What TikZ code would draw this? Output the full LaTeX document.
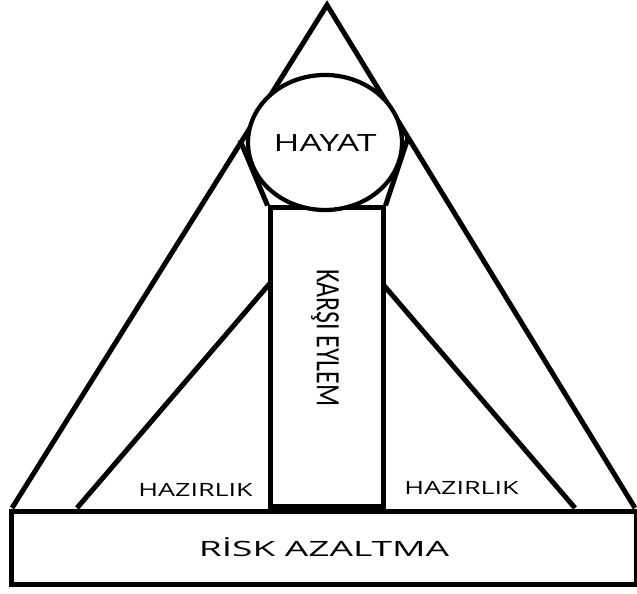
\documentclass[tikz,border=0pt]{standalone}
\usepackage{fontspec}
\usepackage{tikz}
\usetikzlibrary{shapes.geometric,positioning}
\newfontfamily\opensans{Open Sans}
\newfontfamily\carlito{Carlito}
\tikzset{
  afline/.style={draw=black, line width=1mm, line join=miter},
  afbox/.style={draw=black, fill=white, line width=1mm, rectangle, inner sep=0pt},
  afcircle/.style={draw=black, fill=white, line width=0.85mm, ellipse, inner sep=0pt},
  aftext/.style={inner sep=0pt, text=black}
}

\begin{document}
\begin{tikzpicture}[x=0.2mm, y=-0.2mm]
  \useasboundingbox (0,0) rectangle (637,594);
  % outer and inner triangle
  \coordinate (top) at (327,5);
  \coordinate (bl) at (12,508);
  \coordinate (br) at (635,508);
  \coordinate (il) at (77,508);
  \coordinate (ir) at (575,508);
  \coordinate (itop) at (326,218);
  \draw[afline] (bl) -- (top) -- (br);
  \draw[afline] (il) -- (itop) -- (ir);
  % pillar and circle
  \node[afbox, minimum width=22.6mm, minimum height=59.6mm] (eylem) at (326.5,357) {};
  \node[aftext, rotate=-90] (eylemtext) at (325,338) {\carlito\fontsize{19.4}{20}\selectfont\scalebox{0.76}[1]{KARŞI EYLEM}};
  \node[afcircle, minimum width=30.8mm, minimum height=27mm] (hayat) at (325,142.5) {\opensans\fontsize{13.5}{14}\selectfont\scalebox{1.48}[1]{HAYAT}};
  \coordinate (cl) at (240,140);
  \coordinate (cr) at (408,138);
  \draw[afline] (cl) -- (eylem.north west);
  \draw[afline] (cr) -- (eylem.north east);
  % base
  \node[afbox, minimum width=124.8mm, minimum height=14.6mm] (risk) at (324,547.5) {\opensans\fontsize{12}{13}\selectfont\scalebox{1.76}[1]{RİSK AZALTMA}};
  \node[aftext] (hazl) at (195.5,489.5) {\opensans\fontsize{10.4}{11}\selectfont\scalebox{1.47}[1]{HAZIRLIK}};
  \node[aftext] (hazr) at (461.5,487.5) {\opensans\fontsize{10.4}{11}\selectfont\scalebox{1.47}[1]{HAZIRLIK}};
\end{tikzpicture}
\end{document}
